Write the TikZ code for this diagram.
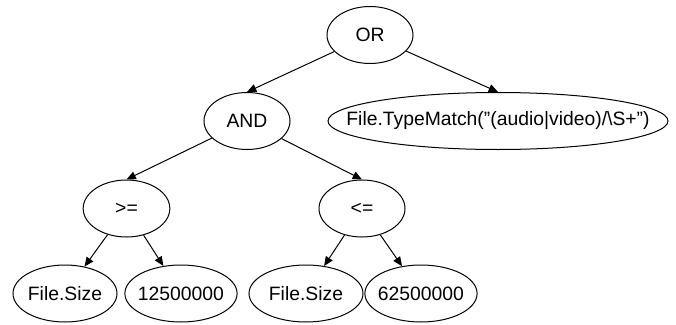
\documentclass[tikz,border=0pt]{standalone}
\usepackage{fontspec}
\setmainfont{Liberation Sans}
\usetikzlibrary{shapes.geometric,arrows.meta}

\tikzset{every picture/.style={line width=0.75pt}}
\tikzset{
  treenode/.style={draw, ellipse, inner ysep=0pt, inner xsep=-2.5pt, minimum height=42.75pt, font=\fontsize{14.5}{16}\selectfont},
  treeedge/.style={-{Triangle[length=7pt,width=6pt]}}
}

\begin{document}
\begin{tikzpicture}[x=0.75pt,y=0.75pt,yscale=-1,xscale=1]
\path (0,0) rectangle (676,325); %set diagram size

% Root
\node [treenode, minimum width=64.5pt] (or) at (370,35) {OR};
% Second level
\node [treenode, minimum width=64.5pt] (and) at (247,121) {AND};
\node [treenode, inner xsep=-24pt, minimum width=255pt] (match) at (498,121) {File.TypeMatch(\symbol{34}(audio|video)/\textbackslash S+\symbol{34})};
% Comparisons
\node [treenode, minimum width=65pt] (ge) at (126.5,208.5) {>=};
\node [treenode, minimum width=64.5pt] (le) at (362,208.5) {<=};
% Leaves
\node [treenode, minimum width=78pt] (sizea) at (65,293.5) {File.Size};
\node [treenode, minimum width=81pt] (lower) at (181,293.5) {12500000};
\node [treenode, minimum width=85.5pt] (sizeb) at (306,293.5) {File.Size};
\node [treenode, minimum width=77pt] (upper) at (421,293.5) {62500000};

% Edges
\draw [treeedge] (or) -- (and.north);
\draw [treeedge] (or) -- (match.north);
\draw [treeedge] (and) -- (ge.north);
\draw [treeedge] (and) -- (le.north);
\draw [treeedge] (ge) -- (sizea);
\draw [treeedge] (ge) -- (lower);
\draw [treeedge] (le) -- (sizeb);
\draw [treeedge] (le) -- (upper);

\end{tikzpicture}
\end{document}
